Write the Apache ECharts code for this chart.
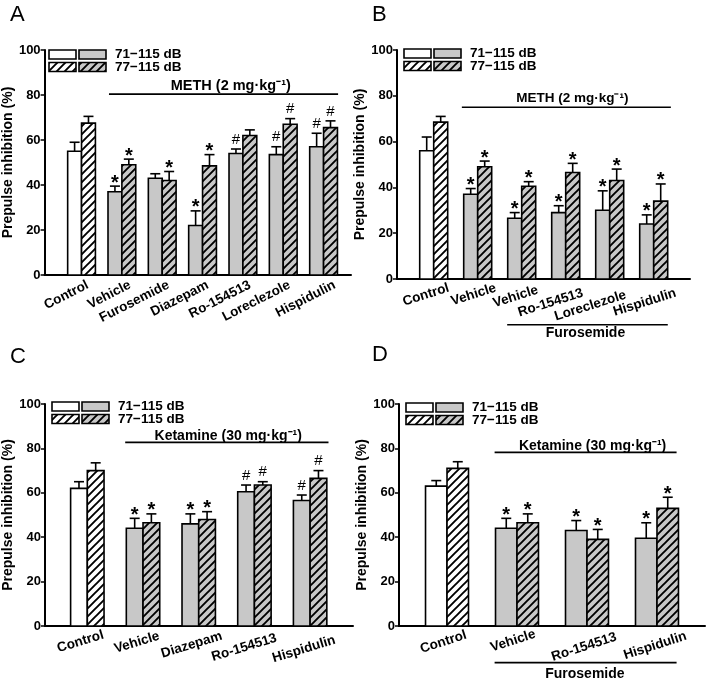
<!DOCTYPE html>
<html><head><meta charset="utf-8">
<script src="https://cdn.jsdelivr.net/npm/echarts@6/dist/echarts.min.js"></script>
<style>html,body{margin:0;padding:0;background:#fff}#c{width:709px;height:679px}</style>
</head><body><div id="c"></div>
<script>
// ---------- DATA ----------
const catsA = ['Control','Vehicle','Furosemide','Diazepam','Ro-154513','Loreclezole','Hispidulin'];
const lowA  = [55, 37, 43, 22, 54, 53.5, 57];
const lowTopA = [59, 39.5, 45, 28.5, 56, 57, 63];
const highA = [67.5, 49, 42, 48.5, 62, 67, 65.5];
const highTopA = [70.5, 51.5, 46, 53.5, 64.5, 69.5, 68.5];
const markLowA  = ['', '*', '', '*', '#', '#', '#'];
const markHighA = ['', '*', '*', '*', '', '#', '#'];

const catsB = ['Control','Vehicle','Vehicle','Ro-154513','Loreclezole','Hispidulin'];
const lowB  = [56, 37, 26.5, 29, 30, 24];
const lowTopB = [62, 39.5, 29, 32, 38.5, 28];
const highB = [68.5, 49, 40.5, 46.5, 43, 34];
const highTopB = [71, 51.5, 42.5, 50.5, 48, 41.5];
const markLowB  = ['', '*', '*', '*', '*', '*'];
const markHighB = ['', '*', '*', '*', '*', '*'];

const catsC = ['Control','Vehicle','Diazepam','Ro-154513','Hispidulin'];
const lowC  = [62, 44, 46, 60.5, 56.5];
const lowTopC = [65, 48.5, 50.5, 63.5, 59];
const highC = [70, 46.5, 48, 63.5, 66.5];
const highTopC = [73.5, 50.5, 51.5, 65, 70];
const markLowC  = ['', '*', '*', '#', '#'];
const markHighC = ['', '*', '*', '#', '#'];

const catsD = ['Control','Vehicle','Ro-154513','Hispidulin'];
const lowD  = [63, 44, 43, 39.5];
const lowTopD = [65.5, 48.5, 47.5, 46.5];
const highD = [71, 46.5, 39, 53];
const highTopD = [74, 50.5, 43.5, 58];
const markLowD  = ['', '*', '*', '*'];
const markHighD = ['', '*', '*', '*'];

const yTicks = [0, 20, 40, 60, 80, 100];
const legendLabels = ['71\u2212115 dB', '77\u2212115 dB'];
const yName = 'Prepulse inhibition (%)';

// ---------- LAYOUT ----------
const FONT = '"Liberation Sans", Arial, Helvetica, sans-serif';
const panels = [
  {letter:'A', lx:10, ly:4, cats:catsA, low:lowA, lowTop:lowTopA, high:highA, highTop:highTopA, mL:markLowA, mH:markHighA,
   left:42, top:50, width:309, height:225, xmin:-0.916, xmax:6.68, bw:0.344, rot:27, nameGap:27,
   ldx:[3,5,3,2,4,3,8], ldy:[3,3,3,3,3,3,3], legTop:0,
   brackets:[{from:0.68,to:6.36,y:80.4,text:'METH (2 mg\u00b7kg\u207b\u00b9)',tx:3.7,ty:84.2,fs:14.5}]},
  {letter:'B', lx:372, ly:4, cats:catsB, low:lowB, lowTop:lowTopB, high:highB, highTop:highTopB, mL:markLowB, mH:markHighB,
   left:397, top:50, width:293, height:229, xmin:-0.834, xmax:5.825, bw:0.318, rot:17.5, nameGap:21,
   ldx:[13,16,14,15,14,20], ldy:[2,2,4,7,9,7], legTop:-1,
   brackets:[{from:0.64,to:5.39,y:75,text:'METH (2 mg\u00b7kg\u207b\u00b9)',tx:3.15,ty:78.8,fs:13.5},
             {from:1.67,to:5.32,y:-20,text:'Furosemide',tx:3.45,ty:-23.7,fs:14}]},
  {letter:'C', lx:10, ly:346, cats:catsC, low:lowC, lowTop:lowTopC, high:highC, highTop:highTopC, mL:markLowC, mH:markHighC,
   left:45, top:404, width:308, height:222, xmin:-0.76, xmax:4.77, bw:0.30, rot:17, nameGap:28,
   ldx:[14,14,21,20,23], ldy:[2,3,3,5,7], legTop:-2,
   brackets:[{from:0.68,to:4.33,y:82.7,text:'Ketamine (30 mg\u00b7kg\u207b\u00b9)',tx:2.53,ty:85.6,fs:14}]},
  {letter:'D', lx:372, ly:344, cats:catsD, low:lowD, lowTop:lowTopD, high:highD, highTop:highTopD, mL:markLowD, mH:markHighD,
   left:399, top:404, width:306, height:222, xmin:-0.686, xmax:3.686, bw:0.307, rot:18, nameGap:21,
   ldx:[17,16,27,27], ldy:[2,1,4,3], legTop:-1,
   brackets:[{from:0.68,to:3.28,y:78.2,text:'Ketamine (30 mg\u00b7kg\u207b\u00b9)',tx:2.08,ty:81.2,fs:14},
             {from:0.68,to:3.28,y:-16.5,text:'Furosemide',tx:1.97,ty:-21.6,fs:14}]}
];

function hatch(bg){
  const s = 8, c = document.createElement('canvas'); c.width = s; c.height = s;
  const g = c.getContext('2d'); g.fillStyle = bg; g.fillRect(0,0,s,s);
  g.strokeStyle = '#000'; g.lineWidth = 1.9; g.beginPath();
  g.moveTo(0,s); g.lineTo(s,0); g.moveTo(-2,2); g.lineTo(2,-2); g.moveTo(s-2,s+2); g.lineTo(s+2,s-2); g.stroke();
  return {image:c, repeat:'repeat'};
}
const GRAY = '#c8c8c8';
const fills = {white:'#ffffff', gray:GRAY, hwhite:hatch('#ffffff'), hgray:hatch(GRAY)};

const grids = [], xAxes = [], yAxes = [], series = [], graphics = [];

panels.forEach((p, pi) => {
  grids.push({left:p.left, top:p.top, width:p.width, height:p.height});
  xAxes.push({type:'value', gridIndex:pi, min:p.xmin, max:p.xmax,
    axisLine:{show:true, onZero:false, lineStyle:{color:'#000', width:2}},
    axisTick:{show:false}, axisLabel:{show:false}, splitLine:{show:false}});
  yAxes.push({type:'value', gridIndex:pi, min:yTicks[0], max:yTicks[yTicks.length-1], interval:yTicks[1]-yTicks[0],
    name:yName, nameLocation:'middle', nameGap:p.nameGap,
    nameTextStyle:{fontFamily:FONT, fontWeight:'bold', fontSize:14, color:'#000'},
    axisLine:{show:true, onZero:false, lineStyle:{color:'#000', width:2}},
    axisTick:{show:true, inside:false, length:4, lineStyle:{color:'#000', width:1.5}},
    axisLabel:{fontFamily:FONT, fontWeight:'bold', fontSize:13, color:'#000', margin:4},
    splitLine:{show:false}});

  const makeBars = (vals, tops, marks, side) => ({
    type:'custom', xAxisIndex:pi, yAxisIndex:pi, clip:false, z:3,
    data: vals.map((v,i)=>[i, v, tops[i]]),
    renderItem: (params, api) => {
      const i = api.value(0), v = api.value(1), t = api.value(2);
      const x0 = side < 0 ? i - p.bw : i, x1 = side < 0 ? i : i + p.bw;
      const a = api.coord([x0, v]), b = api.coord([x1, 0]), top = api.coord([(x0+x1)/2, t]);
      const cx = (a[0] + b[0]) / 2;
      let fill;
      if (side < 0) fill = i === 0 ? fills.white : fills.gray;
      else fill = i === 0 ? fills.hwhite : fills.hgray;
      const ch = [
        {type:'line', shape:{x1:cx, y1:a[1], x2:cx, y2:top[1]}, style:{stroke:'#000', lineWidth:1.6}},
        {type:'line', shape:{x1:cx-5, y1:top[1], x2:cx+5, y2:top[1]}, style:{stroke:'#000', lineWidth:1.6}},
        {type:'rect', shape:{x:a[0], y:a[1], width:b[0]-a[0], height:b[1]-a[1]}, style:{fill:fill, stroke:'#000', lineWidth:1.6}}
      ];
      const m = marks[params.dataIndex];
      if (m === '*') ch.push({type:'text', x:cx, y:top[1]-3, style:{text:'*', font:'bold 20px '+FONT, fill:'#000', align:'center', verticalAlign:'middle'}});
      if (m === '#') ch.push({type:'text', x:cx, y:top[1]-2, style:{text:'#', font:'15px '+FONT, fill:'#000', align:'center', verticalAlign:'bottom'}});
      return {type:'group', children:ch};
    }
  });
  series.push(makeBars(p.low, p.lowTop, p.mL, -1));
  series.push(makeBars(p.high, p.highTop, p.mH, 1));

  // category labels
  series.push({type:'custom', xAxisIndex:pi, yAxisIndex:pi, clip:false, silent:true,
    data: p.cats.map((c,i)=>[i, 0]),
    renderItem: (params, api) => {
      const k = params.dataIndex;
      const q = api.coord([api.value(0), 0]);
      return {type:'text', x:q[0]+p.ldx[k], y:q[1]+p.ldy[k], rotation:p.rot*Math.PI/180,
        style:{text:p.cats[k], font:'bold 13.5px '+FONT, fill:'#000', align:'right', verticalAlign:'top'}};
    }});

  // treatment brackets
  series.push({type:'custom', xAxisIndex:pi, yAxisIndex:pi, clip:false, silent:true,
    data: p.brackets.map(b=>[b.from, b.y]),
    renderItem: (params, api) => {
      const b = p.brackets[params.dataIndex];
      const s = api.coord([b.from, b.y]), e = api.coord([b.to, b.y]), t = api.coord([b.tx, b.ty]);
      return {type:'group', children:[
        {type:'line', shape:{x1:s[0], y1:s[1], x2:e[0], y2:e[1]}, style:{stroke:'#000', lineWidth:1.6}},
        {type:'text', x:t[0], y:t[1], style:{text:b.text, font:'bold '+b.fs+'px '+FONT, fill:'#000', align:'center', verticalAlign:'middle'}}
      ]};
    }});

  // panel letter
  graphics.push({type:'text', left:p.lx, top:p.ly, style:{text:p.letter, font:'22px '+FONT, fill:'#000'}});
  // legend
  const lx = p.left + 7, ly = p.top + p.legTop;
  [[fills.white, fills.gray],[fills.hwhite, fills.hgray]].forEach((row, r) => {
    row.forEach((f, k) => {
      graphics.push({type:'rect', shape:{x:lx + k*30, y:ly + r*12.5, width:27, height:9},
        style:{fill:f, stroke:'#000', lineWidth:1.6}});
    });
    graphics.push({type:'text', x:p.left + 73, y:ly + r*12.5 + 4.5,
      style:{text:legendLabels[r], font:'bold 13.5px '+FONT, fill:'#000', verticalAlign:'middle'}});
  });
});

const chart = echarts.init(document.getElementById('c'), null, {renderer:'canvas'});
chart.setOption({animation:false, backgroundColor:'#fff', grid:grids, xAxis:xAxes, yAxis:yAxes, series:series, graphic:graphics});
</script></body></html>
